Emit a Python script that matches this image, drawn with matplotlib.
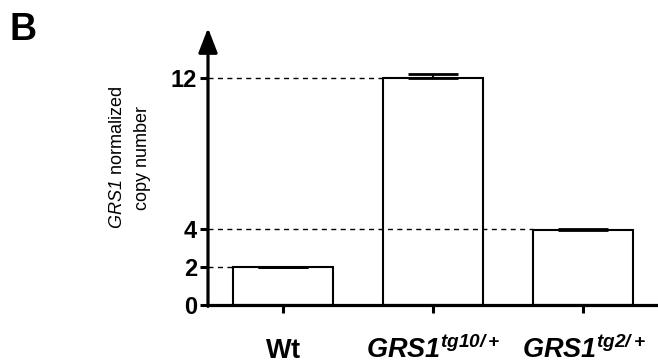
import matplotlib
matplotlib.use('Agg')
import matplotlib.pyplot as plt

plt.rcParams['font.family'] = 'Liberation Sans'
plt.rcParams['mathtext.fontset'] = 'custom'
# digits in italic math fall back to rm/bf, so make those italic too
plt.rcParams['mathtext.rm'] = 'Liberation Sans:italic'
plt.rcParams['mathtext.it'] = 'Liberation Sans:italic'
plt.rcParams['mathtext.bf'] = 'Liberation Sans:italic:bold'
plt.rcParams['mathtext.bfit'] = 'Liberation Sans:italic:bold'
plt.rcParams['mathtext.sf'] = 'Liberation Sans:bold'

labels = [r'$\mathsf{Wt}$', r'$\mathbfit{GRS1}^{\mathbfit{tg10/+}}$', r'$\mathbfit{GRS1}^{\mathbfit{tg2/+}}$']
means = [2.0, 12.0, 3.98]
errors = [0.03, 0.2, 0.06]
guides = [2, 12, 4]
yticks = [0, 2, 4, 12]

fig = plt.figure(figsize=(6.58, 3.63), dpi=100)
ax = fig.add_axes([208 / 658, 58 / 363, 1 - 208 / 658, (305 - 28) / 363])

x = range(len(means))
width = 0.667
ax.bar(x, means, width=width, color='white', edgecolor='black', linewidth=1.5, zorder=2)
ax.errorbar(x, means, yerr=[[0] * len(errors), errors], fmt='none', ecolor='black',
            elinewidth=1.5, capsize=18, capthick=2, zorder=3)

xmin, xmax = -0.503, 2.497
ax.set_xlim(xmin, xmax)
ax.set_ylim(0, 12 * (305 - 28) / (305 - 78))

# dashed guide lines from the axis to each bar
for i, g in enumerate(guides):
    ax.plot([xmin, i - width / 2], [g, g], color='black', ls=(0, (3.6, 3.2)), lw=1, zorder=4)

ax.spines['top'].set_visible(False)
ax.spines['right'].set_visible(False)
ax.spines['left'].set_visible(False)
ax.spines['bottom'].set_linewidth(2.3)

ax.annotate('', xy=(0, 1), xycoords='axes fraction', xytext=(0, -0.005), textcoords='axes fraction',
            arrowprops=dict(arrowstyle='-|>,head_length=0.75,head_width=0.29', color='black', lw=2.3,
                            mutation_scale=20, shrinkA=0, shrinkB=0), annotation_clip=False)

ax.set_yticks(yticks)
ax.set_yticklabels([str(t) for t in yticks], fontsize=17, fontweight='bold')
ax.tick_params(axis='y', length=6, width=2.2, pad=2, left=True)

# x labels placed on a common baseline
ax.set_xticks(list(x))
ax.set_xticklabels([])
ax.tick_params(axis='x', length=6, width=2.2)
for i, lab in zip(x, labels):
    ax.text(i, -0.191, lab, transform=ax.get_xaxis_transform(), ha='center', va='baseline', fontsize=19.5)

fig.text(130 / 658, 1 - 158 / 363, r'$\mathit{GRS1}$ normalized' + '\ncopy number', rotation=90,
         ha='center', va='center', multialignment='center', fontsize=13, linespacing=1.55)
fig.text(10 / 658, 1 - 40 / 363, 'B', fontsize=27, fontweight='bold', va='baseline')

fig.savefig('out.png', dpi=100)
